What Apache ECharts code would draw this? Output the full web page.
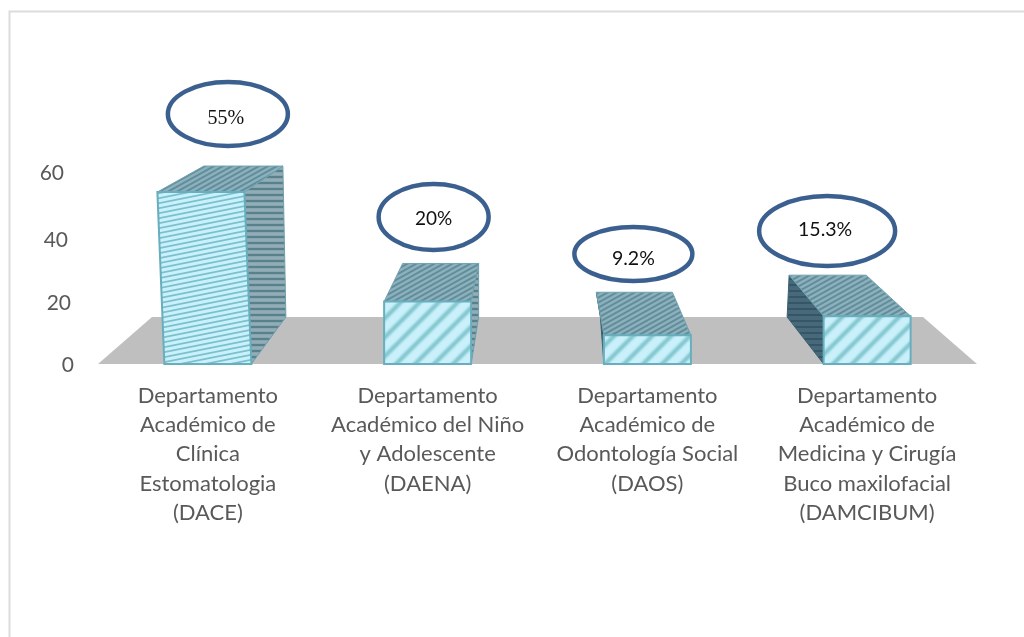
<!DOCTYPE html>
<html><head><meta charset="utf-8">
<style>html,body{margin:0;padding:0;background:#fff}#c{width:1024px;height:637px}</style>
<script src="https://cdn.jsdelivr.net/npm/echarts@6/dist/echarts.min.js"></script>
</head><body><div id="c"></div>
<script>
const categories = [
  'Departamento\nAcadémico de\nClínica\nEstomatologia\n(DACE)',
  'Departamento\nAcadémico del Niño\ny Adolescente\n(DAENA)',
  'Departamento\nAcadémico de\nOdontología Social\n(DAOS)',
  'Departamento\nAcadémico de\nMedicina y Cirugía\nBuco maxilofacial\n(DAMCIBUM)'
];
const values = [55, 20, 9.2, 15.3];
const percentLabels = ['55%', '20%', '9.2%', '15.3%'];
const yTicks = [0, 20, 40, 60];

// Presentation only: the 3-D look of each bar and the placement of its bubble.
const look = [
  {lean:-7, backL:-4,  backR:75, backDy:-26, sideX:78,  side:'light', fine:true},
  {lean:0,  backL:-25, backR:51, backDy:-38, sideX:51,  side:'light'},
  {lean:0,  backL:-51, backR:25, backDy:-43, sideX:-47, side:'dark'},
  {lean:0,  backL:-78, backR:-1, backDy:-41, sideX:-80, side:'dark'}
];
const bubbles = [
  {dx:20,  cy:114, rx:60, ry:32, tx:-2, ty:5,  font:'20px "Liberation Serif"'},
  {dx:6,   cy:217, rx:55, ry:33, tx:0,  ty:2,  font:'19px Lato'},
  {dx:-14, cy:254, rx:59, ry:27, tx:0,  ty:5,  font:'19.5px Lato'},
  {dx:-40, cy:231, rx:68, ry:35, tx:-2, ty:-1, font:'19.5px Lato'}
];
const BAR_W = 87, FLOOR_H = 47, FLOOR_IN = 54;
const yLabelPadding = {60:[0,10,6,0], 40:[2,6,0,0], 20:[3,3,0,0], 0:[2,0,0,0]};

function tile(w, h, bg, fg, lw, segs, blur) {
  const c = document.createElement('canvas'); c.width = w; c.height = h;
  const g = c.getContext('2d');
  g.fillStyle = bg; g.fillRect(0,0,w,h);
  g.strokeStyle = fg; g.lineWidth = lw;
  if (blur) g.filter = 'blur('+blur+'px)';
  segs.forEach(s => { g.beginPath(); g.moveTo(s[0],s[1]); g.lineTo(s[2],s[3]); g.stroke(); });
  return {image:c, repeat:'repeat'};
}
function slopeSegs(w, h) {
  const o = [];
  for (let i=-2;i<=2;i++) o.push([-2, h*(i+1)+(2/w)*h, w+2, h*i-(2/w)*h]);
  return o;
}
const fineFront = tile(25,5,'#c8f1fb','#7cc0cd',1.8,slopeSegs(25,5),0.5);
const wideFront = tile(19,19,'#c9f0fb','#7fc5cd',4,[[-2,2,2,-2],[-1,20,20,-1],[17,21,21,17]],0.8);
const topFill = tile(9,5,'#8db0bd','#618d9a',1.8,slopeSegs(9,5),0.5);
const lightSide = tile(20,6,'#93adb7','#58818e',2.4,[[0,3,20,3]],0.5);
const darkSide = tile(6,6,'#47697a','#2f4f5e',1.4,[[0,3,6,3]],0.4);

const chart = echarts.init(document.getElementById('c'), null, {renderer:'canvas'});

function poly(points, fill, stroke, lw) {
  return {type:'polygon', shape:{points}, style:{fill, stroke:stroke||null, lineWidth:lw||0}};
}

chart.setOption({
  animation:false,
  backgroundColor:'#fff',
  graphic:[{type:'polyline', silent:true, z:-1,
    shape:{points:[[9.5,637],[9.5,11.5],[1024,11.5]]},
    style:{stroke:'#dcdcdc', lineWidth:2, fill:null}}],
  grid:{left:98, width:879, top:176.4, height:187.6},
  xAxis:{type:'category', data:categories,
    axisLine:{show:false}, axisTick:{show:false},
    axisLabel:{interval:0, margin:17, color:'#595959', fontFamily:'Lato', fontSize:22, lineHeight:29.3, align:'center'}},
  yAxis:{type:'value', min:0, max:60, interval:20,
    axisLine:{show:false}, axisTick:{show:false}, splitLine:{show:false},
    axisLabel:{margin:24, color:'#595959', fontFamily:'Lato', fontSize:21,
      formatter:v=>`{t${v}|${v}}`,
      rich:Object.fromEntries(yTicks.map(t=>['t'+t,{color:'#595959',fontFamily:'Lato',fontSize:21,padding:yLabelPadding[t]}]))}},
  series:[
    {type:'custom', name:'floor', coordinateSystem:'cartesian2d', silent:true, z:1, clip:false,
     data:[[0,0]], encode:{x:0,y:1},
     renderItem(params, api){
       const g = params.coordSys, base = api.coord([0,0])[1];
       return poly([[g.x,base],[g.x+g.width,base],[g.x+g.width-FLOOR_IN,base-FLOOR_H],[g.x+FLOOR_IN,base-FLOOR_H]],'#bfbfbf');
     }},
    {type:'custom', name:'bars', coordinateSystem:'cartesian2d', z:2, clip:false,
     data:values.map((v,i)=>[i,v]), encode:{x:0,y:1},
     renderItem(params, api){
       const i = api.value(0), L = look[i];
       const top = api.coord([i, api.value(1)]), base = api.coord([i,0]);
       const cx = base[0], h = BAR_W/2, yT = top[1], yB = base[1];
       const tl=[cx-h+L.lean,yT], tr=[cx+h+L.lean,yT], bl=[cx-h,yB], br=[cx+h,yB];
       const backY = yT+L.backDy, bkL=[cx+L.backL,backY], bkR=[cx+L.backR,backY];
       const sideBack=[cx+L.sideX,yB-FLOOR_H];
       const isDark = L.side==='dark';
       const side = isDark
         ? poly([tl,bkL,sideBack,bl], darkSide, '#3a6272', 1)
         : poly([tr,bkR,sideBack,br], lightSide, '#6f9fad', 1);
       return {type:'group', children:[
         side,
         poly([tl,bkL,bkR,tr], topFill, '#6fa3b1', 1),
         poly([tl,tr,br,bl], L.fine?fineFront:wideFront, '#68aebc', 2)
       ]};
     }},
    {type:'custom', name:'bubbles', coordinateSystem:'cartesian2d', silent:true, z:3, clip:false,
     data:values.map((v,i)=>[i,v]), encode:{x:0,y:1},
     renderItem(params, api){
       const i = api.value(0), B = bubbles[i];
       const cx = api.coord([i,0])[0]+B.dx;
       return {type:'group', children:[
         {type:'ellipse', shape:{cx, cy:B.cy, rx:B.rx, ry:B.ry},
          style:{fill:'#fff', stroke:'#3b6090', lineWidth:4.5}},
         {type:'text', x:cx+B.tx, y:B.cy+B.ty, z2:5,
          style:{text:percentLabels[i], font:B.font, fill:'#111', align:'center', verticalAlign:'middle'}}
       ]};
     }}
  ]
});
</script></body></html>
